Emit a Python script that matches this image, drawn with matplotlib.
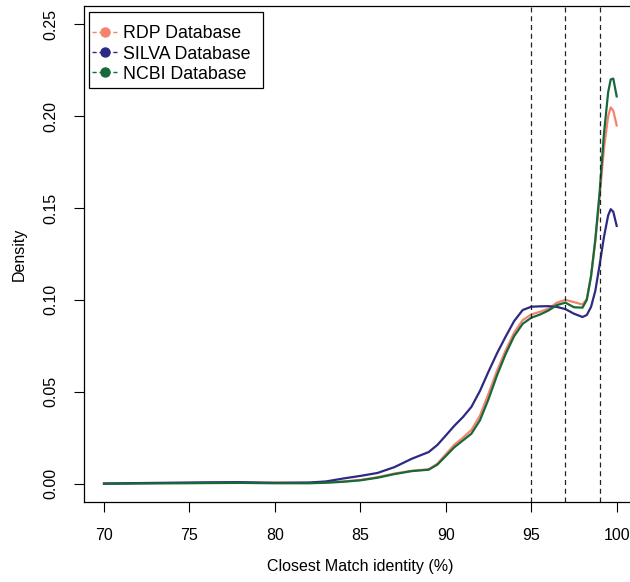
import numpy as np
import matplotlib
matplotlib.use("Agg")
import matplotlib.pyplot as plt
from matplotlib.lines import Line2D
from matplotlib.patches import Rectangle

plt.rcParams['font.family'] = ['Liberation Sans', 'DejaVu Sans']

# identity grid (%) and density
identity = [70, 72, 74, 76, 78, 80, 82, 83, 84, 85, 86, 87, 88, 89, 89.5, 90,
            90.5, 91, 91.5, 92, 92.5, 93, 93.5, 94, 94.5, 95, 95.5, 96, 96.5,
            97, 97.5, 98, 98.25, 98.5, 98.75, 99, 99.25, 99.5, 99.65, 99.8, 100]

silva = [0.0000, 0.0003, 0.0005, 0.0007, 0.0008, 0.0004, 0.0006, 0.0012, 0.0028,
         0.0042, 0.0058, 0.0090, 0.0135, 0.0172, 0.0210, 0.0262, 0.0315, 0.0362,
         0.0418, 0.0505, 0.0610, 0.0710, 0.0800, 0.0885, 0.0945, 0.0963, 0.0965,
         0.0966, 0.0962, 0.0950, 0.0925, 0.0907, 0.0918, 0.0962, 0.1050, 0.1190,
         0.1340, 0.1460, 0.1494, 0.1480, 0.1403]

rdp = [0.0000, 0.0002, 0.0003, 0.0004, 0.0005, 0.0006, 0.0004, 0.0006, 0.0012,
       0.0020, 0.0035, 0.0055, 0.0070, 0.0078, 0.0108, 0.0160, 0.0212, 0.0250,
       0.0292, 0.0370, 0.0490, 0.0615, 0.0725, 0.0822, 0.0890, 0.0921, 0.0935,
       0.0952, 0.0985, 0.1000, 0.0988, 0.0975, 0.1005, 0.1130, 0.1320, 0.1560,
       0.1820, 0.2000, 0.2048, 0.2030, 0.1950]

ncbi = [0.0000, 0.0001, 0.0002, 0.0003, 0.0004, 0.0002, 0.0002, 0.0005, 0.0010,
        0.0018, 0.0032, 0.0052, 0.0068, 0.0076, 0.0103, 0.0150, 0.0198, 0.0235,
        0.0272, 0.0345, 0.0460, 0.0590, 0.0705, 0.0803, 0.0870, 0.0903, 0.0920,
        0.0942, 0.0972, 0.0985, 0.0960, 0.0958, 0.1000, 0.1130, 0.1330, 0.1585,
        0.1900, 0.2130, 0.2200, 0.2205, 0.2108]

thresholds = [95, 97, 99]
labels = ['RDP Database', 'SILVA Database', 'NCBI Database']
colors = ['#F4826F', '#2C2A83', '#17693A']

fig = plt.figure(figsize=(6.3, 5.82), dpi=100)
W, H = 630, 582
ax = fig.add_axes([83.5 / W, (H - 502) / H, (637.2 - 83.5) / W, (502 - 6) / H])

ax.plot(identity, rdp, color=colors[0], lw=1.6, solid_joinstyle='round')
ax.plot(identity, silva, color=colors[1], lw=1.6, solid_joinstyle='round')
ax.plot(identity, ncbi, color=colors[2], lw=1.6, solid_joinstyle='round')

for t in thresholds:
    ax.axvline(t, color='#222222', lw=0.9, ls=(0, (4, 3)))

ax.set_xlim(68.8, 101.2)
ax.set_ylim(-0.01, 0.26)
ax.set_xticks([70, 75, 80, 85, 90, 95, 100])
ax.set_yticks([0.00, 0.05, 0.10, 0.15, 0.20, 0.25])
ax.set_yticklabels(['0.00', '0.05', '0.10', '0.15', '0.20', '0.25'],
                   rotation=90, va='center')
ax.tick_params(axis='both', direction='out', length=7, width=0.8,
               labelsize=11.5, colors='black')
ax.tick_params(axis='x', pad=12)
ax.tick_params(axis='y', pad=11)
for s in ax.spines.values():
    s.set_linewidth(0.9)

ax.set_xlabel('Closest Match identity (%)', fontsize=11.5, labelpad=11)
ax.set_ylabel('Density', fontsize=11.5, labelpad=12)

# legend in the R style: frame wider than the entries
handles = [Line2D([0], [0], color=c, lw=1, ls=(0, (3, 2)), marker='o',
                  markersize=6.5, markeredgecolor=c, markerfacecolor=c)
           for c in colors]
leg = ax.legend(handles, labels, loc='upper left', fontsize=12.8, frameon=False,
                bbox_to_anchor=(92 / W, 1 - 25.5 / H),
                bbox_transform=fig.transFigure, borderaxespad=0, borderpad=0,
                handlelength=1.45, labelspacing=0.17, handletextpad=0.3)
fig.patches.append(Rectangle((89 / W, 1 - 88 / H), (263 - 89) / W, (88 - 12) / H,
                             transform=fig.transFigure, fill=True,
                             facecolor='none', edgecolor='black', lw=0.9,
                             zorder=5))

fig.savefig('out.png', dpi=100)
